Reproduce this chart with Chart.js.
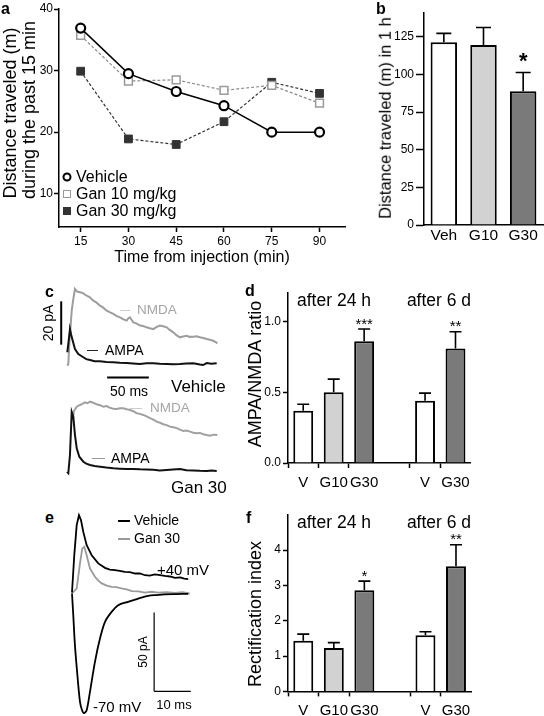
<!DOCTYPE html>
<html>
<head>
<meta charset="utf-8">
<script src="https://cdn.jsdelivr.net/npm/chart.js@4.4.0/dist/chart.umd.min.js"></script>
<style>
  body { margin: 0; background: #fff; }
  #fig { position: relative; width: 544px; height: 716px; overflow: hidden; font-family: "Liberation Sans", Arial, sans-serif; color: #000; }
  #fig canvas { position: absolute; }
  .t { position: absolute; white-space: nowrap; line-height: 1; }
  .c { transform: translate(-50%, -50%); }
  .l { transform: translateY(-50%); }
  .rot { transform: translate(-50%, -50%) rotate(-90deg); }
  .pl { font-weight: bold; font-size: 16px; }
  .dash { position: absolute; height: 0; }
  .mk { position: absolute; box-sizing: border-box; transform: translate(-50%, -50%); }
</style>
</head>
<body>
<div id="fig">
  <canvas id="chartA" width="352" height="270" style="left:0;top:0"></canvas>
  <canvas id="chartB" width="192" height="250" style="left:352px;top:0"></canvas>
  <canvas id="traceCV" width="192" height="104" style="left:42px;top:284px"></canvas>
  <canvas id="traceCG" width="192" height="91" style="left:42px;top:395px"></canvas>
  <canvas id="chartD" width="244" height="210" style="left:232px;top:284px"></canvas>
  <canvas id="traceE" width="154" height="211" style="left:61px;top:505px"></canvas>
  <canvas id="chartF" width="244" height="211" style="left:232px;top:505px"></canvas>

  <!-- panel letters -->
  <div class="t pl l" style="left:1px;top:9px">a</div>
  <div class="t pl l" style="left:376px;top:9px">b</div>
  <div class="t pl l" style="left:45px;top:292px">c</div>
  <div class="t pl l" style="left:245px;top:291px">d</div>
  <div class="t pl l" style="left:45px;top:518px">e</div>
  <div class="t pl l" style="left:246px;top:518px">f</div>

  <!-- y axis titles -->
  <div class="t rot" style="left:9.5px;top:113px;font-size:18px">Distance traveled (m)</div>
  <div class="t rot" style="left:28.5px;top:110px;font-size:18px">during the past 15 min</div>
  <div class="t rot" style="left:385px;top:118px;font-size:16.5px">Distance traveled (m) in 1 h</div>
  <div class="t rot" style="left:255px;top:374px;font-size:18px">AMPA/NMDA ratio</div>
  <div class="t rot" style="left:255px;top:614px;font-size:18px">Rectification index</div>

  <!-- panel a legend -->
  <div class="mk" style="left:67px;top:177px;width:9px;height:9px;border:2px solid #000;border-radius:50%;background:#fff"></div>
  <div class="mk" style="left:67px;top:194px;width:8px;height:8px;border:1.5px solid #999;background:#fff"></div>
  <div class="mk" style="left:67px;top:211px;width:8px;height:8px;background:#333"></div>
  <div class="t l" style="left:76px;top:177px;font-size:16px">Vehicle</div>
  <div class="t l" style="left:76px;top:194px;font-size:16px">Gan 10 mg/kg</div>
  <div class="t l" style="left:76px;top:211px;font-size:16px">Gan 30 mg/kg</div>

  <!-- panel c labels -->
  <div class="t rot" style="left:48px;top:323px;font-size:14px">20 pA</div>
  <div class="t c" style="left:129px;top:391px;font-size:14px">50 ms</div>
  <div class="t l" style="left:171px;top:386px;font-size:17px">Vehicle</div>
  <div class="t l" style="left:171px;top:487px;font-size:17px">Gan 30</div>
  <div class="dash" style="left:120px;top:310px;width:10px;border-top:1.5px solid #ccc"></div>
  <div class="t l" style="left:137px;top:310px;font-size:13.5px;color:#a5a5a5">NMDA</div>
  <div class="dash" style="left:87px;top:350px;width:11px;border-top:1.5px solid #222"></div>
  <div class="t l" style="left:105px;top:350px;font-size:14px">AMPA</div>
  <div class="dash" style="left:130px;top:408px;width:12px;border-top:1.5px solid #ccc"></div>
  <div class="t l" style="left:150px;top:408px;font-size:13.5px;color:#a5a5a5">NMDA</div>
  <div class="dash" style="left:92px;top:458px;width:13px;border-top:1.5px solid #999"></div>
  <div class="t l" style="left:111px;top:458px;font-size:14px">AMPA</div>

  <!-- panel e labels -->
  <div class="dash" style="left:118px;top:520px;width:12px;border-top:2px solid #000"></div>
  <div class="t l" style="left:134px;top:520px;font-size:14px">Vehicle</div>
  <div class="dash" style="left:118px;top:538px;width:12px;border-top:2px solid #999"></div>
  <div class="t l" style="left:134px;top:538px;font-size:14px">Gan 30</div>
  <div class="t l" style="left:157px;top:569px;font-size:15px">+40 mV</div>
  <div class="t l" style="left:93px;top:706px;font-size:15px">-70 mV</div>
  <div class="t rot" style="left:143px;top:652px;font-size:12px">50 pA</div>
  <div class="t c" style="left:174px;top:704px;font-size:13px">10 ms</div>

  <!-- panel d / f headers -->
  <div class="t c" style="left:334px;top:301px;font-size:17.5px">after 24 h</div>
  <div class="t c" style="left:439px;top:301px;font-size:17.5px">after 6 d</div>
  <div class="t c" style="left:334px;top:523px;font-size:17.5px">after 24 h</div>
  <div class="t c" style="left:439px;top:523px;font-size:17.5px">after 6 d</div>
</div>

<script>
const FONT = '"Liberation Sans", Arial, sans-serif';

// ---- panel a: distance per 15 min ----
const aTimes = [15, 30, 45, 60, 75, 90];
const aVehicle = [36.9, 29.5, 26.6, 24.3, 20.0, 20.0];
const aGan10 = [35.7, 28.3, 28.5, 26.8, 27.6, 24.7];
const aGan30 = [29.9, 18.9, 18.0, 21.7, 28.1, 26.3];
const aTicksY = [10, 20, 30, 40];

// ---- panel b: distance in 1 h ----
const bLabels = ['Veh', 'G10', 'G30'];
const bMeans = [121.3, 119.5, 88.9];
const bErrors = [6.0, 11.7, 12.4];
const bStars = ['', '', '*'];
const bTicks = [0, 25, 50, 75, 100, 125];

// ---- panel d: AMPA/NMDA ratio (empty slot separates the two groups) ----
const dfLabels = ['V', 'G10', 'G30', '', 'V', 'G30'];
const dMeans = [0.37, 0.50, 0.86, null, 0.44, 0.81];
const dErrors = [0.045, 0.093, 0.087, null, 0.054, 0.118];
const dStars = ['', '', '***', '', '', '**'];
const dTicks = [0, 0.5, 1.0];

// ---- panel f: rectification index ----
const fMeans = [1.43, 1.23, 2.86, null, 1.59, 3.54];
const fErrors = [0.19, 0.15, 0.26, null, 0.10, 0.61];
const fStars = ['', '', '*', '', '', '**'];
const fTicks = [0, 1, 2, 3, 4];

// ---- panel c traces (time in ms, current in pA) ----
const cVehNmdaT = [0.3, 1.5, 3, 5.6, 7.5, 9.5, 12, 15.5, 19, 23.5, 27, 31.5, 35, 39.5, 43, 47.5, 51, 55.4, 59, 63.4, 67, 71.5, 73.5, 75.4, 77.5, 79.4, 83, 87.4, 91, 95.4, 99, 103.3, 107, 111.4, 115, 119.4, 123, 127.3, 131, 135.3, 139, 143.3, 147, 151.2, 155, 159.3, 163, 167.3, 171, 175.2, 178, 180];
const cVehNmdaV = [2.3, 3.1, 14, 27.7, 33, 37.7, 36.5, 36.2, 35.8, 34.6, 34.0, 32.3, 31.5, 30, 29.2, 27.7, 27.0, 26.2, 25.3, 24.6, 23.8, 23.1, 24.2, 24.6, 23.4, 22.3, 21.8, 20.8, 20.6, 20, 19.6, 19.2, 20.1, 20.8, 20.5, 20, 18.8, 17.7, 16.4, 15.4, 15.8, 16.1, 15.6, 15.7, 15.9, 15.4, 15.1, 14.6, 14.3, 13.8, 13.2, 12.6];
const cVehAmpaT = [0.3, 2, 3.5, 5, 6.8, 9.5, 13.5, 19.5, 23, 27.5, 33, 39.5, 47, 55.4, 63, 71.5, 79, 87.4, 95, 103.3, 111, 119.4, 127, 135.3, 143, 151.2, 159.3, 163, 167.3, 173, 179.3];
const cVehAmpaV = [8.5, 14, 19.2, 16.5, 13.8, 10, 7.7, 6.2, 5.3, 4.9, 4.4, 4.3, 4.0, 3.9, 3.6, 3.5, 3.3, 3.1, 3.4, 3.4, 3.2, 3.1, 3.0, 3.1, 3.3, 3.4, 2.8, 2.6, 3.5, 3.2, 3.4];
const cGanNmdaT = [7.1, 8.3, 11.6, 15.5, 18.5, 21.5, 24.5, 27.5, 31.5, 35.5, 39.5, 43.4, 47.5, 51.5, 55.5, 59.5, 63.5, 67.4, 71.4, 75.4, 79.4, 83.4, 87.4, 91.3, 95.4, 99.4, 103.4, 107.4, 111.4, 115.3, 119.3, 123.3, 127.3, 131.4, 135.3, 139.3, 143.3, 147.3, 151.3, 155.3, 159.3, 163.2, 167.2, 171.2, 175.6, 180];
const cGanNmdaV = [29.6, 32.6, 34.6, 35.4, 35.9, 36.6, 36.2, 36.9, 36.4, 35.7, 35.3, 34.6, 34.9, 34.1, 33.6, 33.5, 33.9, 33.9, 33.4, 33.1, 32.5, 31.6, 31.3, 30.8, 30.1, 29.3, 28.6, 27.7, 27.2, 26.5, 26.1, 25.4, 25.1, 24.7, 24.0, 23.4, 23.6, 23.1, 22.6, 22.3, 22.5, 21.9, 21.5, 21.2, 21.7, 21.5];
const cGanAmpaT = [0, 1.5, 3.5, 5.6, 7.5, 9.5, 11.6, 14.7, 19.5, 23, 27.5, 33, 39.5, 47, 55.4, 63, 71.5, 79, 87.4, 95, 103.3, 111, 119.4, 127, 135.3, 143, 151.2, 159, 167.3, 173, 179.3];
const cGanAmpaV = [4.5, 3.9, 12.3, 32.2, 30, 21.5, 15.4, 11.5, 9.2, 8.3, 7.7, 7.2, 6.9, 6.5, 6.2, 6.0, 5.8, 5.9, 5.7, 5.6, 5.5, 5.2, 5.4, 5.6, 5.8, 5.3, 5.2, 5.0, 4.9, 5.1, 4.9];
const cBarPaT = [-7, -7], cBarPaV = [12, 32];        // 20 pA
const cBarMsT = [48, 98], cBarMsV = [-3.2, -3.2];    // 50 ms

// ---- panel e traces (time in ms, current in pA) ----
const ePlus40T = [0, 0.62, 1.28, 1.9, 2.45, 3.08, 4.0, 5.37, 7.16, 9.0, 10.3, 11.7, 13, 14.4, 15.8, 17.2, 18.5, 19.9, 21.2, 22.6, 24, 25.3, 26.7, 28.1, 29.5, 30.6, 31.7];
const ePlus40V = [0.4, 24.1, 43.2, 49.5, 46.4, 38.9, 30.5, 24.1, 18.9, 16.1, 15.0, 14.6, 14.1, 13.5, 13.4, 12.5, 12.6, 11.4, 11.2, 11.9, 11.5, 11.0, 10.6, 9.7, 10.0, 9.2, 8.9];
const eGanT = [0, 1.28, 2.18, 2.8, 3.35, 4.0, 4.9, 6.26, 7.2, 8.1, 9.5, 10.8, 12.1, 13.5, 14.9, 16.3, 18.1, 19.9, 21.7, 23.5, 25.8, 28.1, 30.1, 32.1];
const eGanV = [-0.2, 3.0, 18.9, 28.4, 29.4, 24.1, 15.7, 10.4, 8.0, 6.2, 4.8, 4.0, 3.8, 3.0, 2.4, 1.3, 1.2, 0.4, 0.9, 0.4, 0.6, 0.2, 0.7, -0.2];
const eMinus70T = [0, 0.35, 0.8, 1.55, 2.18, 2.7, 3.27, 4.0, 4.9, 6.26, 7.63, 9.0, 10.8, 12.6, 15.3, 18.1, 20.8, 23, 25.3, 28.5, 31.7];
const eMinus70V = [-0.2, -14, -33, -54.2, -69, -74, -76.2, -74.3, -62.7, -43.6, -28.8, -18.2, -11.9, -7.6, -5.5, -3.4, -1.7, -1.2, -0.8, -0.6, -0.4];
const eBarPaT = [22.4, 22.4], eBarPaV = [-62.3, -12.3];   // 50 pA
const eBarMsT = [22.4, 32.4], eBarMsV = [-62.3, -62.3];   // 10 ms

const pts = (xs, ys) => xs.map((x, i) => ({ x: x, y: ys[i] }));
const fixWidth = (w) => (scale) => { scale.width = w; };
const fixHeight = (h) => (scale) => { scale.height = h; };
const setTicks = (vals) => (scale) => { scale.ticks = vals.map(v => ({ value: v })); };
const noPlugins = { legend: { display: false }, tooltip: { enabled: false } };

// error bars and significance stars drawn on top of the bars
const errorBars = {
  id: 'errorBars',
  afterDatasetsDraw(chart, args, opts) {
    const ctx = chart.ctx;
    const y = chart.scales.y;
    ctx.save();
    ctx.strokeStyle = '#000';
    ctx.lineWidth = 1.6;
    chart.getDatasetMeta(0).data.forEach((bar, i) => {
      const m = opts.means[i], e = opts.errors[i];
      if (m == null) return;
      const top = y.getPixelForValue(m + e);
      ctx.beginPath();
      ctx.moveTo(bar.x, y.getPixelForValue(m));
      ctx.lineTo(bar.x, top);
      ctx.moveTo(bar.x - opts.cap / 2, top);
      ctx.lineTo(bar.x + opts.cap / 2, top);
      ctx.stroke();
      if (opts.stars[i]) {
        ctx.fillStyle = '#000';
        ctx.font = opts.starFont;
        ctx.textAlign = 'center';
        ctx.textBaseline = 'top';
        ctx.fillText(opts.stars[i], bar.x, top - opts.starGap);
      }
    });
    ctx.restore();
  }
};

// panel a
new Chart(document.getElementById('chartA'), {
  type: 'line',
  data: {
    datasets: [
      { data: pts(aTimes, aVehicle), borderColor: '#000', borderWidth: 1.5, pointStyle: 'circle', pointRadius: 4.5, pointBorderWidth: 2.2, pointBorderColor: '#000', pointBackgroundColor: '#fff' },
      { data: pts(aTimes, aGan10), borderColor: '#8c8c8c', borderWidth: 1.2, borderDash: [3, 2], pointStyle: 'rect', pointRadius: 5.5, pointBorderWidth: 1.5, pointBorderColor: '#9a9a9a', pointBackgroundColor: '#fff' },
      { data: pts(aTimes, aGan30), borderColor: '#333', borderWidth: 1.2, borderDash: [3, 2], pointStyle: 'rect', pointRadius: 5.5, pointBorderWidth: 1, pointBorderColor: '#333', pointBackgroundColor: '#333' }
    ]
  },
  options: {
    responsive: false, animation: false,
    layout: { padding: { top: 9, right: 3, left: 0, bottom: 0 } },
    plugins: noPlugins,
    scales: {
      x: {
        type: 'linear', min: 8.2, max: 98,
        afterFit: fixHeight(43), afterBuildTicks: setTicks(aTimes),
        border: { color: '#000', width: 1.5 },
        grid: { drawOnChartArea: false, tickColor: '#000', tickLength: 5, tickWidth: 1.5 },
        ticks: { color: '#000', font: { size: 12, family: FONT }, padding: 2, maxRotation: 0 },
        title: { display: true, text: 'Time from injection (min)', color: '#000', font: { size: 16, family: FONT }, padding: { top: 0, bottom: 2.4 } }
      },
      y: {
        min: 4.6, max: 40,
        afterFit: fixWidth(59), afterBuildTicks: setTicks(aTicksY),
        border: { color: '#000', width: 1.5 },
        grid: { drawOnChartArea: false, tickColor: '#000', tickLength: 5, tickWidth: 1.5 },
        ticks: { color: '#000', font: { size: 12, family: FONT }, padding: 1 }
      }
    }
  }
});

function barChart(id, cfg) {
  return new Chart(document.getElementById(id), {
    type: 'bar',
    data: {
      labels: cfg.labels,
      datasets: [{ data: cfg.means, backgroundColor: cfg.colors, borderColor: '#000', borderWidth: 2, borderSkipped: 'start', barPercentage: cfg.barPct, categoryPercentage: 1 }]
    },
    options: {
      responsive: false, animation: false,
      layout: { padding: cfg.padding },
      plugins: Object.assign({ errorBars: { means: cfg.means, errors: cfg.errors, stars: cfg.stars, cap: cfg.cap, starFont: cfg.starFont, starGap: cfg.starGap } }, noPlugins),
      scales: {
        x: {
          afterFit: fixHeight(cfg.xHeight),
          border: { color: '#000', width: 1.5 },
          grid: { display: cfg.xTicks, drawTicks: cfg.xTicks, drawOnChartArea: false, tickLength: 5, tickWidth: 1.5, tickColor: (c) => cfg.labels[c.index] ? '#000' : 'rgba(0,0,0,0)' },
          ticks: { color: '#000', font: { size: cfg.xFont, family: FONT }, padding: cfg.xPad, maxRotation: 0, autoSkip: false }
        },
        y: {
          min: 0, max: cfg.yMax,
          afterFit: fixWidth(cfg.yWidth), afterBuildTicks: setTicks(cfg.ticks),
          border: { color: '#000', width: 1.5 },
          grid: { drawOnChartArea: false, tickColor: '#000', tickLength: cfg.tickLen, tickWidth: 1.5 },
          ticks: { color: '#000', font: { size: 12, family: FONT }, padding: 2, callback: cfg.fmt }
        }
      }
    },
    plugins: [errorBars]
  });
}

const bColors = ['#ffffff', '#d2d2d2', '#7a7a7a'];
const dfColors = ['#ffffff', '#d2d2d2', '#7a7a7a', '#ffffff', '#ffffff', '#7a7a7a'];

barChart('chartB', {
  labels: bLabels, means: bMeans, errors: bErrors, stars: bStars, colors: bColors, ticks: bTicks,
  yMax: 140.8, barPct: 0.667, padding: { top: 13, right: 1, left: 0, bottom: 0 },
  xHeight: 25, yWidth: 72, tickLen: 8, xFont: 15.5, xPad: 1, xTicks: false,
  cap: 15, starFont: 'bold 22px ' + FONT, starGap: 22, fmt: (v) => v
});

barChart('chartD', {
  labels: dfLabels, means: dMeans, errors: dErrors, stars: dStars, colors: dfColors, ticks: dTicks,
  yMax: 1.2, barPct: 0.653, padding: { top: 9, right: 4, left: 0, bottom: 0 },
  xHeight: 31, yWidth: 56, tickLen: 5, xFont: 15, xPad: 6, xTicks: true,
  cap: 12, starFont: '15px ' + FONT, starGap: 12, fmt: (v) => v.toFixed(1)
});

barChart('chartF', {
  labels: dfLabels, means: fMeans, errors: fErrors, stars: fStars, colors: dfColors, ticks: fTicks,
  yMax: 5, barPct: 0.653, padding: { top: 9.7, right: 4, left: 0, bottom: 0 },
  xHeight: 24.6, yWidth: 56, tickLen: 5, xFont: 15, xPad: 5.5, xTicks: true,
  cap: 12, starFont: '15px ' + FONT, starGap: 12, fmt: (v) => v
});

function traceChart(id, xRange, yRange, sets) {
  return new Chart(document.getElementById(id), {
    type: 'line',
    data: {
      datasets: sets.map(s => ({ data: pts(s.t, s.v), borderColor: s.color, borderWidth: s.width, pointRadius: 0, tension: s.tension || 0, fill: false }))
    },
    options: {
      responsive: false, animation: false,
      layout: { padding: 0 },
      plugins: noPlugins,
      scales: {
        x: { type: 'linear', min: xRange[0], max: xRange[1], display: false },
        y: { type: 'linear', min: yRange[0], max: yRange[1], display: false }
      }
    }
  });
}

traceChart('traceCV', [-30, 200], [-8, 40], [
  { t: cVehAmpaT, v: cVehAmpaV, color: '#111', width: 2 },
  { t: cVehNmdaT, v: cVehNmdaV, color: '#9d9d9d', width: 2 },
  { t: cBarPaT, v: cBarPaV, color: '#000', width: 2 },
  { t: cBarMsT, v: cBarMsV, color: '#000', width: 2 }
]);

traceChart('traceCG', [-30, 200], [-2, 40], [
  { t: cGanAmpaT, v: cGanAmpaV, color: '#111', width: 2 },
  { t: cGanNmdaT, v: cGanNmdaV, color: '#a0a0a0', width: 2 }
]);

traceChart('traceE', [-3, 39], [-78, 56], [
  { t: ePlus40T, v: ePlus40V, color: '#000', width: 1.8 },
  { t: eMinus70T, v: eMinus70V, color: '#000', width: 1.8, tension: 0.3 },
  { t: eGanT, v: eGanV, color: '#9a9a9a', width: 1.8 },
  { t: eBarPaT, v: eBarPaV, color: '#000', width: 1.2 },
  { t: eBarMsT, v: eBarMsV, color: '#000', width: 1.2 }
]);
</script>
</body>
</html>
